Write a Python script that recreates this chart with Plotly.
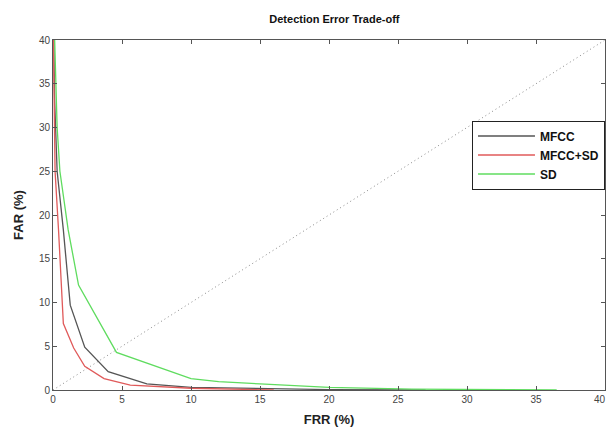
import plotly.graph_objects as go

# Data (FRR %, FAR %)
mfcc_frr = [0.05, 0.12, 0.3, 0.75, 1.25, 2.3, 4.0, 6.8, 10.0, 15.0, 20.0, 27.0]
mfcc_far = [40.0, 33.0, 25.0, 18.3, 9.7, 4.9, 2.1, 0.7, 0.3, 0.15, 0.05, 0.0]

mfccsd_frr = [0.03, 0.15, 0.4, 0.75, 1.5, 2.3, 3.7, 5.6, 10.0, 16.0]
mfccsd_far = [40.0, 25.0, 18.3, 7.6, 4.8, 2.7, 1.3, 0.55, 0.2, 0.0]

sd_frr = [0.12, 0.3, 0.5, 1.1, 1.85, 4.6, 10.0, 12.0, 15.0, 20.0, 26.0, 36.5]
sd_far = [40.0, 30.0, 25.0, 18.3, 12.0, 4.3, 1.3, 0.95, 0.7, 0.3, 0.1, 0.0]

diag = [0, 40]
x_ticks = [0, 5, 10, 15, 20, 25, 30, 35, 40]
y_ticks = [0, 5, 10, 15, 20, 25, 30, 35, 40]

fig = go.Figure()
fig.add_trace(go.Scatter(x=diag, y=diag, mode="lines", showlegend=False,
                         line=dict(color="#8a8a8a", width=1, dash="1px,3px")))
fig.add_trace(go.Scatter(x=mfcc_frr, y=mfcc_far, mode="lines", name="MFCC",
                         line=dict(color="#555555", width=1.3)))
fig.add_trace(go.Scatter(x=mfccsd_frr, y=mfccsd_far, mode="lines", name="MFCC+SD",
                         line=dict(color="#e05a5a", width=1.3)))
fig.add_trace(go.Scatter(x=sd_frr, y=sd_far, mode="lines", name="SD",
                         line=dict(color="#5fdc5f", width=1.3)))

axis_common = dict(showgrid=False, zeroline=False, showline=True, linecolor="#555555",
                   linewidth=1, mirror="ticks", ticks="inside", ticklen=4,
                   tickcolor="#555555", tickfont=dict(family="Arial", size=10, color="#444444"))

fig.update_xaxes(range=[0, 40], tickvals=x_ticks[:-1], **axis_common,
                 title=dict(text="<b>FRR (%)</b>", font=dict(family="Arial", size=13, color="#222222"),
                            standoff=10))
fig.update_yaxes(range=[0, 40], tickvals=y_ticks, **axis_common,
                 title=dict(text="<b>FAR (%)</b>", font=dict(family="Arial", size=13, color="#222222"),
                            standoff=12))

# last x tick label, kept inside the page
fig.add_annotation(x=x_ticks[-1], y=0, xref="x", yref="y", text=str(x_ticks[-1]),
                   showarrow=False, yanchor="top", xanchor="right", xshift=3, yshift=-2,
                   font=dict(family="Arial", size=10, color="#444444"))

fig.update_layout(
    width=608, height=428,
    margin=dict(l=53, r=3, t=40, b=38),
    paper_bgcolor="white", plot_bgcolor="white",
    title=dict(text="<b>Detection Error Trade-off</b>", x=0.55, xanchor="center",
               y=0.955, yanchor="middle", font=dict(family="Arial", size=11, color="#111111")),
    legend=dict(x=0.759, y=0.77, xanchor="left", yanchor="top",
                bgcolor="white", bordercolor="#222222", borderwidth=1,
                font=dict(family="Arial", size=12, color="#111111", weight="bold"),
                itemwidth=57, tracegroupgap=0),
    showlegend=True,
)

fig.write_html("out.html")
